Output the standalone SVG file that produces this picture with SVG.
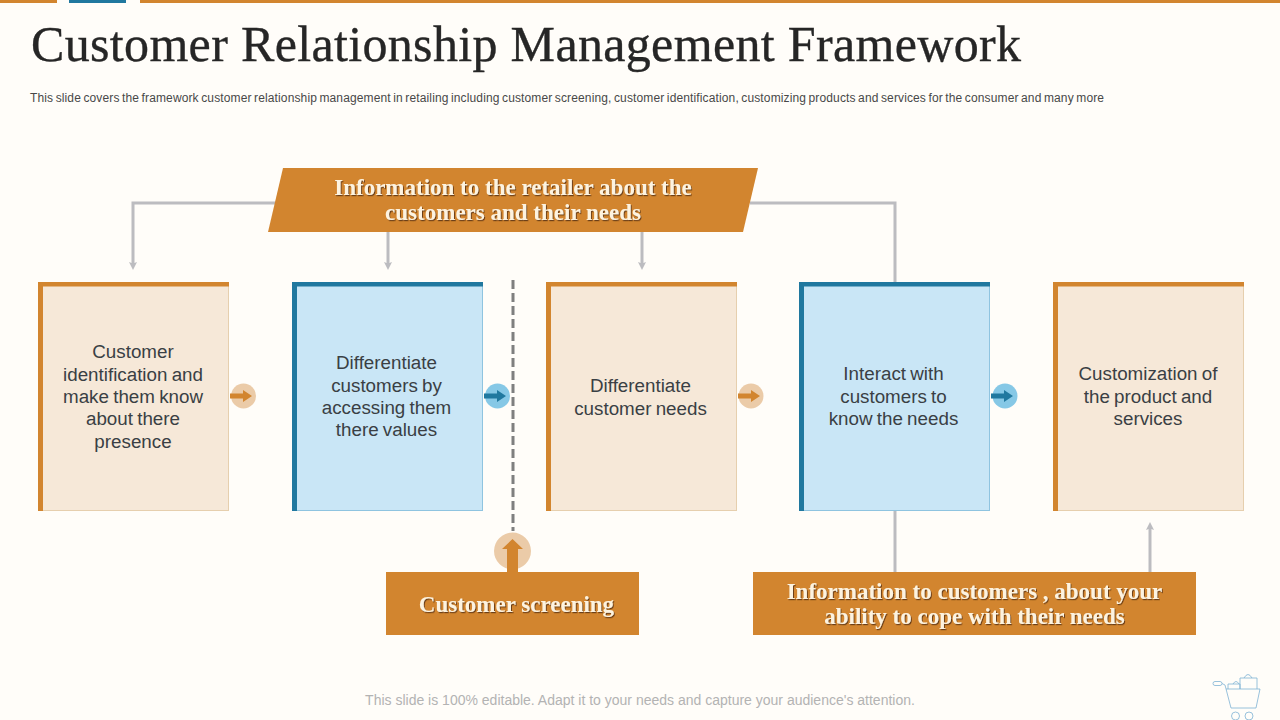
<svg xmlns="http://www.w3.org/2000/svg" width="1280" height="720" viewBox="0 0 1280 720">
<style>
.t{font-family:"Liberation Sans",Arial,sans-serif;font-size:18.800px;word-spacing:-1px;fill:#3a3f44;text-anchor:middle}
.h{font-family:"Liberation Serif","Times New Roman",serif;font-weight:bold;font-size:23px;fill:#fdf3e0;text-anchor:middle;filter:url(#sh)}
.o{fill:#f6e8d8;stroke:#e6cfae;stroke-width:1}
.b{fill:#c9e6f6;stroke:#8fc4e0;stroke-width:1}
.obar{fill:#d2852f}
.bbar{fill:#20789f}
.c{fill:none;stroke:#bcbcc0;stroke-width:3}
.ban{fill:#d2852f}
</style>
<defs>
<filter id="sh" x="-5%" y="-20%" width="110%" height="150%"><feDropShadow dx="1" dy="1.2" stdDeviation="0.6" flood-color="#4a2c08" flood-opacity="0.75"/></filter>
<marker id="ah" markerUnits="userSpaceOnUse" markerWidth="8" markerHeight="8" refX="4" refY="4" orient="auto" viewBox="0 0 8 8"><path d="M0 0L8 4L0 8L1.500 4Z" fill="#bcbcc0"/></marker>
</defs>
<rect width="1280" height="720" fill="#fffdf9"/>
<g id="topbar">
<rect x="0" y="0" width="57" height="3" fill="#d2852f"/>
<rect x="69" y="0" width="57" height="3" fill="#20789f"/>
<rect x="140" y="0" width="1140" height="3" fill="#d2852f"/>
</g>
<text id="title" x="31" y="61" font-family="'Liberation Serif','Times New Roman',serif" font-size="50" fill="#262626" stroke="#262626" stroke-width="0.350" textLength="990" lengthAdjust="spacing">Customer Relationship Management Framework</text>
<text id="subtitle" x="30" y="102" font-family="'Liberation Sans',Arial,sans-serif" font-size="12" word-spacing="-1" fill="#484848" textLength="1074" lengthAdjust="spacing">This slide covers the framework customer relationship management in retailing including customer screening, customer identification, customizing products and services for the consumer and many more</text>
<g id="connectors">
<path class="c" d="M276 203H133V266" marker-end="url(#ah)"/>
<path class="c" d="M388 232V266" marker-end="url(#ah)"/>
<path class="c" d="M642 232V266" marker-end="url(#ah)"/>
<path class="c" d="M750 203H895V283"/>
<path class="c" d="M895 511V572"/>
<path class="c" d="M1150 572V526" marker-end="url(#ah)"/>
<path d="M513 280V531" fill="none" stroke="#7f7f7f" stroke-width="3" stroke-dasharray="9 4"/>
</g>
<g id="banner-top">
<path class="ban" d="M283 168H758L743 232H268Z"/>
<text class="h"><tspan x="513" y="195">Information to the retailer about the</tspan><tspan x="513" y="220">customers and their needs</tspan></text>
</g>
<g id="node1">
<rect class="o" x="38.500" y="282.500" width="190" height="228"/>
<rect class="obar" x="38" y="282" width="5" height="229"/><rect class="obar" x="38" y="282" width="191" height="4.500"/>
<text class="t"><tspan x="133" y="358">Customer</tspan><tspan x="133" y="381">identification and</tspan><tspan x="133" y="403">make them know</tspan><tspan x="133" y="425">about there</tspan><tspan x="133" y="448">presence</tspan></text>
</g>
<g id="node2">
<rect class="b" x="292.500" y="282.500" width="190" height="228"/>
<rect class="bbar" x="292" y="282" width="5" height="229"/><rect class="bbar" x="292" y="282" width="191" height="4.500"/>
<text class="t"><tspan x="386.500" y="369">Differentiate</tspan><tspan x="386.500" y="392">customers by</tspan><tspan x="386.500" y="414">accessing them</tspan><tspan x="386.500" y="436">there values</tspan></text>
</g>
<g id="node3">
<rect class="o" x="546.500" y="282.500" width="190" height="228"/>
<rect class="obar" x="546" y="282" width="5" height="229"/><rect class="obar" x="546" y="282" width="191" height="4.500"/>
<text class="t"><tspan x="640.500" y="392">Differentiate</tspan><tspan x="640.500" y="415">customer needs</tspan></text>
</g>
<g id="node4">
<rect class="b" x="799.500" y="282.500" width="190" height="228"/>
<rect class="bbar" x="799" y="282" width="5" height="229"/><rect class="bbar" x="799" y="282" width="191" height="4.500"/>
<text class="t"><tspan x="893.500" y="380">Interact with</tspan><tspan x="893.500" y="403">customers to</tspan><tspan x="893.500" y="425">know the needs</tspan></text>
</g>
<g id="node5">
<rect class="o" x="1053.500" y="282.500" width="190" height="228"/>
<rect class="obar" x="1053" y="282" width="5" height="229"/><rect class="obar" x="1053" y="282" width="191" height="4.500"/>
<text class="t"><tspan x="1148" y="380">Customization of</tspan><tspan x="1148" y="403">the product and</tspan><tspan x="1148" y="425">services</tspan></text>
</g>
<g id="flow-arrows">
<circle cx="243.500" cy="396" r="12.500" fill="#ebcba8"/>
<path d="M230 393.500H243V390L252 396L243 402V398.500H230Z" fill="#d2852f"/>
<circle cx="497.500" cy="396" r="12.500" fill="#86c8e6"/>
<path d="M484 393.500H497V390L506 396L497 402V398.500H484Z" fill="#20789f"/>
<circle cx="751" cy="396" r="12.500" fill="#ebcba8"/>
<path d="M738 393.500H751V390L760 396L751 402V398.500H738Z" fill="#d2852f"/>
<circle cx="1005" cy="396" r="12.500" fill="#86c8e6"/>
<path d="M991 393.500H1004V390L1013 396L1004 402V398.500H991Z" fill="#20789f"/>
<circle cx="512.500" cy="551" r="18.500" fill="#ebcba8"/>
<path d="M507 572V549H502L512.500 539L523 549H518V572Z" fill="#d2852f"/>
</g>
<g id="banner-screening">
<rect class="ban" x="386" y="572" width="253" height="63"/>
<text class="h" x="516.500" y="612">Customer screening</text>
</g>
<g id="banner-info">
<rect class="ban" x="753" y="572" width="443" height="63"/>
<text class="h"><tspan x="974.500" y="599">Information to customers , about your</tspan><tspan x="974.500" y="624">ability to cope with their needs</tspan></text>
</g>
<text id="footer" x="640" y="705" text-anchor="middle" font-family="'Liberation Sans',Arial,sans-serif" font-size="14" fill="#b3b3b3">This slide is 100% editable. Adapt it to your needs and capture your audience's attention.</text>
<g id="cart" fill="none" stroke="#7fb2d4" stroke-width="0.800">
<rect x="1213" y="681.500" width="9" height="4" rx="2"/>
<path d="M1222 683.500L1225 685L1231 708H1256L1260 689H1226"/>
<path d="M1228 689V684H1240V689M1240 689V678H1257V689M1233 684Q1236 679 1239 684M1244 678Q1248 671 1252 678"/>
<circle cx="1235.500" cy="716" r="4"/><circle cx="1249" cy="716" r="4"/>
</g>
</svg>
